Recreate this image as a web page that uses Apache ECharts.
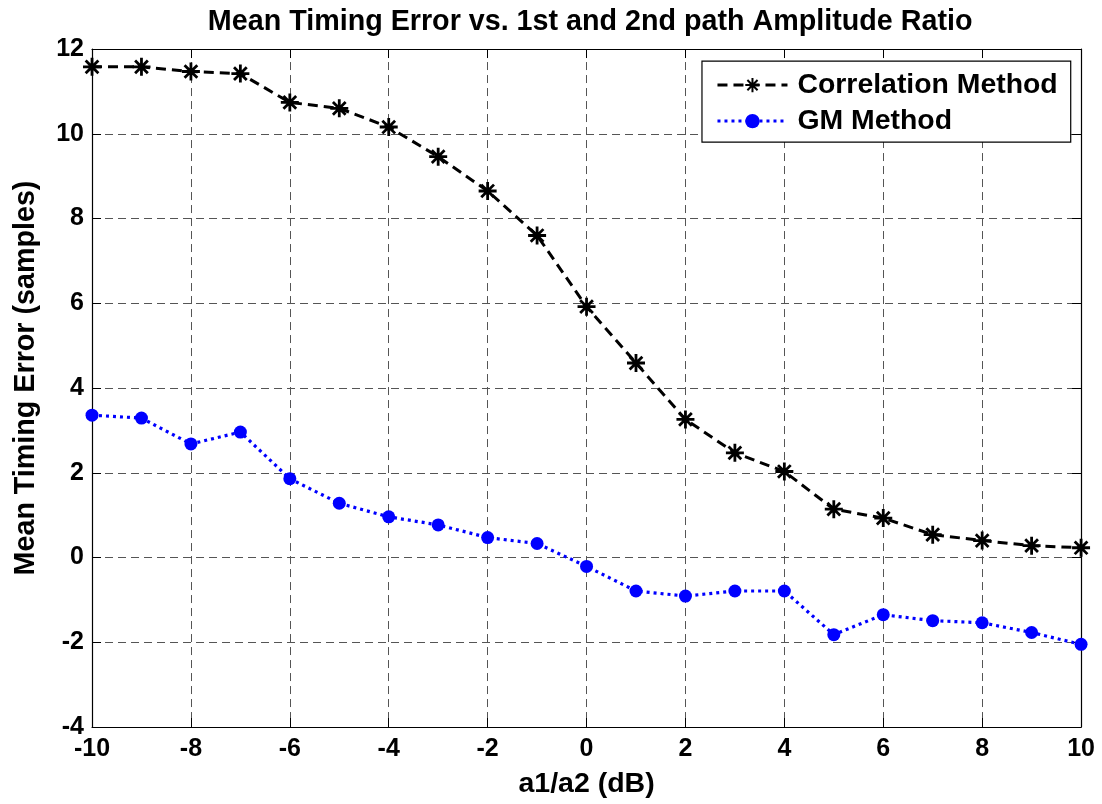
<!DOCTYPE html>
<html>
<head>
<meta charset="utf-8">
<script src="https://cdn.jsdelivr.net/npm/echarts@6/dist/echarts.min.js"></script>
<style>
  html, body { margin: 0; padding: 0; background: #fff; overflow: hidden; width: 100%; height: 100%; }
  #chart { width: 100vw; height: 100vh; }
</style>
</head>
<body>
<div id="chart"></div>
<script>
// Amplitude ratio a1/a2 in dB
const ratioDb = [-10, -9, -8, -7, -6, -5, -4, -3, -2, -1, 0, 1, 2, 3, 4, 5, 6, 7, 8, 9, 10];
// Mean timing error (samples) per method
const correlationErr = [11.58, 11.58, 11.47, 11.42, 10.74, 10.6, 10.16, 9.46, 8.65, 7.6, 5.92, 4.59, 3.26, 2.47, 2.03, 1.14, 0.93, 0.54, 0.4, 0.28, 0.23];
const gmErr = [3.36, 3.29, 2.68, 2.96, 1.86, 1.28, 0.96, 0.77, 0.47, 0.33, -0.21, -0.79, -0.91, -0.79, -0.79, -1.82, -1.35, -1.49, -1.54, -1.77, -2.05];
const seriesNames = ['Correlation Method', 'GM Method'];

const pair = (ys) => ratioDb.map((x, i) => [x, ys[i]]);
const FONT = '"Liberation Sans", Arial, Helvetica, sans-serif';
// eight-spoke asterisk marker
const ASTERISK = 'path://M0 -10L0 10M-10 0L10 0M-7.07 -7.07L7.07 7.07M-7.07 7.07L7.07 -7.07';

const gridLine = { show: true, lineStyle: { color: '#555', width: 1, type: [8, 5] } };
const frameLine = { show: true, onZero: false, lineStyle: { color: '#000', width: 1.2 } };
const innerTick = { show: true, inside: true, length: 9, lineStyle: { color: '#000', width: 1 } };
const tickLabel = { color: '#000', fontFamily: FONT, fontWeight: 'bold', fontSize: 25 };

const chart = echarts.init(document.getElementById('chart'), null, { renderer: 'canvas' });
chart.setOption({
  backgroundColor: '#fff',
  animation: false,
  title: {
    text: 'Mean Timing Error vs. 1st and 2nd path Amplitude Ratio',
    left: '53.1%', top: 3, textAlign: 'center',
    textStyle: { color: '#000', fontFamily: FONT, fontWeight: 'bold', fontSize: 28.7 }
  },
  grid: { left: '8.35%', width: '89.75%', top: '6.1%', height: '85.2%', containLabel: false },
  legend: {
    orient: 'vertical',
    left: '63.7%', top: '7.6%',
    padding: [10, 13, 7, 14],
    itemGap: 8,
    itemWidth: 70, itemHeight: 18,
    backgroundColor: '#fff',
    borderColor: '#000', borderWidth: 1.2,
    lineStyle: { width: 3 },
    textStyle: { color: '#000', fontFamily: FONT, fontWeight: 'bold', fontSize: 28.4, padding: [0, 0, 0, 5] },
    data: seriesNames
  },
  xAxis: [{
    type: 'value', min: -10, max: 10, interval: 2,
    name: 'a1/a2 (dB)', nameLocation: 'middle', nameGap: 43,
    nameTextStyle: { color: '#000', fontFamily: FONT, fontWeight: 'bold', fontSize: 28.5 },
    axisLine: frameLine, axisTick: innerTick,
    axisLabel: Object.assign({ margin: 10 }, tickLabel),
    splitLine: gridLine
  }, {
    type: 'value', min: -10, max: 10, interval: 2, position: 'top',
    axisLine: frameLine, axisTick: innerTick, axisLabel: { show: false }, splitLine: { show: false }
  }],
  yAxis: [{
    type: 'value', min: -4, max: 12, interval: 2,
    name: 'Mean Timing Error (samples)', nameLocation: 'middle', nameGap: 51,
    nameTextStyle: { color: '#000', fontFamily: FONT, fontWeight: 'bold', fontSize: 28.7, padding: [0, 0, 0, 20] },
    axisLine: frameLine, axisTick: innerTick,
    axisLabel: Object.assign({ margin: 8 }, tickLabel),
    splitLine: gridLine
  }, {
    type: 'value', min: -4, max: 12, interval: 2, position: 'right',
    axisLine: frameLine, axisTick: innerTick, axisLabel: { show: false }, splitLine: { show: false }
  }],
  series: [{
    name: seriesNames[0],
    type: 'line',
    data: pair(correlationErr),
    symbol: ASTERISK, symbolSize: 18,
    itemStyle: { color: '#000', borderColor: '#000', borderWidth: 2.8 },
    lineStyle: { color: '#000', width: 3, type: [10, 6] },
    z: 3
  }, {
    name: seriesNames[1],
    type: 'line',
    data: pair(gmErr),
    symbol: 'circle', symbolSize: 13,
    itemStyle: { color: '#0000ff' },
    lineStyle: { color: '#0000ff', width: 3.2, type: [3, 4] },
    z: 2
  }]
});
window.addEventListener('resize', () => chart.resize());
</script>
</body>
</html>
